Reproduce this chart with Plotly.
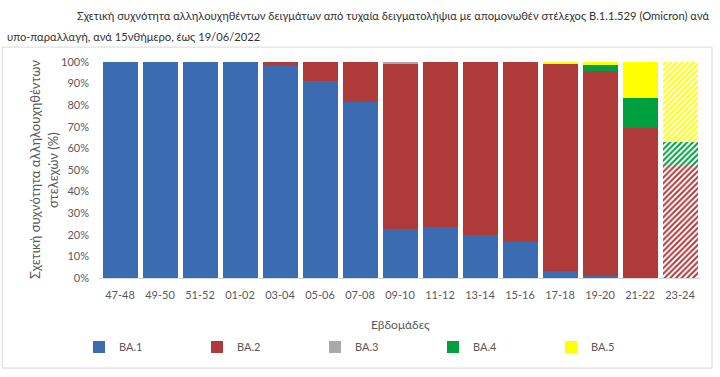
import plotly.graph_objects as go

weeks = ["47-48", "49-50", "51-52", "01-02", "03-04", "05-06", "07-08", "09-10",
         "11-12", "13-14", "15-16", "17-18", "19-20", "21-22", "23-24"]
ba1 = [100, 100, 100, 100, 98, 91, 81.6, 22.5, 23.8, 19.9, 16.5, 3.2, 0.8, 0, 0]
ba2 = [0, 0, 0, 0, 2, 9, 18.4, 76.5, 76.2, 80.1, 83.5, 95.8, 95.0, 69.4, 52.3]
ba3 = [0, 0, 0, 0, 0, 0, 0, 1.0, 0, 0, 0, 0, 0, 0, 0]
ba4 = [0, 0, 0, 0, 0, 0, 0, 0, 0, 0, 0, 0, 3.0, 13.9, 10.8]
ba5 = [0, 0, 0, 0, 0, 0, 0, 0, 0, 0, 0, 1.0, 1.2, 16.7, 36.9]
y_ticks = [0, 10, 20, 30, 40, 50, 60, 70, 80, 90, 100]

series = [("BA.1", ba1, "#3B6BB0"), ("BA.2", ba2, "#AE3A3A"), ("BA.3", ba3, "#A9A9A9"),
          ("BA.4", ba4, "#00A040"), ("BA.5", ba5, "#FFFF00")]

# last period (provisional) drawn hatched
pattern_shapes = [""] * (len(weeks) - 1) + ["/"]

FONT = "Lato, 'Open Sans', sans-serif"
TXT = "#595959"

fig = go.Figure()
for name, vals, col in series:
    fig.add_trace(go.Bar(
        x=weeks, y=vals, name=name,
        marker=dict(color=col, line=dict(width=0),
                    pattern=dict(shape=pattern_shapes, fillmode="replace",
                                 size=4, solidity=0.5)),
    ))

fig.update_layout(
    barmode="stack", bargap=0.125,
    width=720, height=377,
    margin=dict(l=100, r=20, t=62, b=99, autoexpand=False),
    paper_bgcolor="white", plot_bgcolor="white",
    font=dict(family=FONT, size=11, color=TXT),
    showlegend=True,
    legend=dict(orientation="h", traceorder="normal",
                x=-0.035, y=-0.319, xanchor="left", yanchor="middle",
                entrywidth=73, entrywidthmode="pixels",
                font=dict(size=11, color=TXT), itemclick=False),
    xaxis=dict(type="category", showline=True, linecolor="#D9D9D9", linewidth=1, ticks="",
               ticklabelstandoff=7,
               tickfont=dict(size=11, color=TXT), showgrid=False),
    yaxis=dict(range=[0, 100], tickvals=y_ticks,
               ticktext=[f"{v}%" for v in y_ticks],
               ticklabelstandoff=10,
               showgrid=False, zeroline=False, showline=False, ticks="",
               tickfont=dict(size=11, color=TXT)),
)

fig.add_annotation(xref="paper", yref="paper", x=1.02, y=1.217, xanchor="right", yanchor="middle",
                   text="Σχετική συχνότητα αλληλουχηθέντων δειγμάτων από τυχαία δειγματολήψια με απομονωθέν στέλεχος B.1.1.529 (Omicron) ανά",
                   showarrow=False, font=dict(size=11.2, color="#333333", family=FONT))
fig.add_annotation(xref="paper", yref="paper", x=-0.158, y=1.116, xanchor="left", yanchor="middle",
                   text="υπο-παραλλαγή, ανά 15νθήμερο, έως 19/06/2022",
                   showarrow=False, font=dict(size=11.2, color="#333333", family=FONT))
fig.add_annotation(xref="paper", yref="paper", x=(35 - 100) / 600, y=(278 - 170) / 216,
                   xanchor="center", yanchor="middle", textangle=-90,
                   text="Σχετική συχνότητα αλληλουχηθέντων",
                   showarrow=False, font=dict(size=13, color=TXT, family=FONT))
fig.add_annotation(xref="paper", yref="paper", x=(53 - 100) / 600, y=(278 - 170) / 216,
                   xanchor="center", yanchor="middle", textangle=-90,
                   text="στελεχών (%)",
                   showarrow=False, font=dict(size=13, color=TXT, family=FONT))
fig.add_annotation(xref="paper", yref="paper", x=0.5, y=-0.213, yanchor="middle",
                   text="Εβδομάδες", showarrow=False, font=dict(size=12, color=TXT, family=FONT))

fig.add_shape(type="rect", xref="paper", yref="paper", x0=-0.163, x1=1.02, y0=-0.417, y1=1.069,
              line=dict(color="#D9D9D9", width=1), fillcolor="rgba(0,0,0,0)", layer="below")

fig.write_html("out.html", config={"displayModeBar": False},
               post_script="document.body.style.margin='0';")
